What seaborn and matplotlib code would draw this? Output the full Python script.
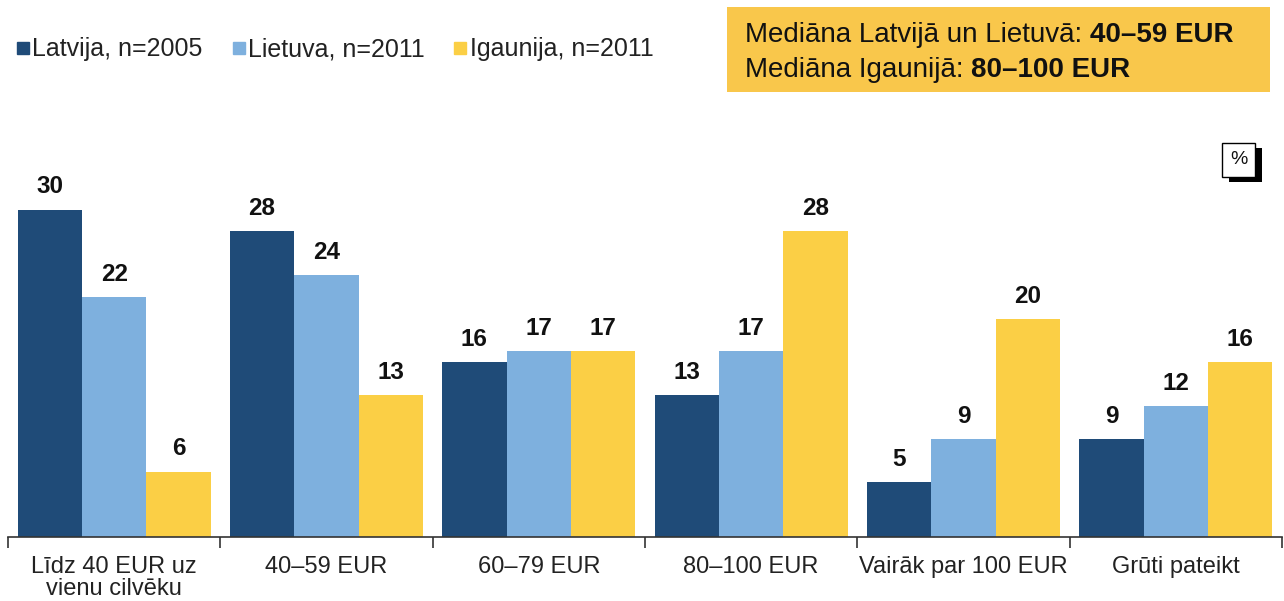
import matplotlib
matplotlib.use("Agg")
import matplotlib.pyplot as plt
import seaborn as sns
import pandas as pd
from matplotlib.lines import Line2D
from matplotlib.patches import Rectangle

categories = ["Līdz 40 EUR uz\nvienu cilvēku", "40–59 EUR", "60–79 EUR",
              "80–100 EUR", "Vairāk par 100 EUR", "Grūti pateikt"]
series = ["Latvija, n=2005", "Lietuva, n=2011", "Igaunija, n=2011"]
latvija = [30, 28, 16, 13, 5, 9]
lietuva = [22, 24, 17, 17, 9, 12]
igaunija = [6, 13, 17, 28, 20, 16]
colors = ["#1F4B78", "#7EB0DE", "#FBCF45"]
box_lines = [("Mediāna Latvijā un Lietuvā: ", "40–59 EUR"),
             ("Mediāna Igaunijā: ", "80–100 EUR")]

sns.set_theme(style="white")
plt.rcParams["font.family"] = ["Liberation Sans", "DejaVu Sans"]

rows = []
for s, vals in zip(series, [latvija, lietuva, igaunija]):
    for c, v in zip(categories, vals):
        rows.append({"cat": c, "series": s, "val": v})
df = pd.DataFrame(rows)

fig = plt.figure(figsize=(12.84, 6.01), dpi=100)
ax = fig.add_axes([8 / 1284, 64 / 601, 1274 / 1284, 430 / 601])
sns.barplot(data=df, x="cat", y="val", hue="series", palette=colors,
            width=0.91, gap=0, saturation=1, ax=ax, legend=False,
            order=categories, hue_order=series, linewidth=0, edgecolor="none")
ax.set_xlim(-0.5, len(categories) - 0.5)
ax.set_ylim(0, 39.4)
ax.set_xlabel("")
ax.set_ylabel("")
ax.set_yticks([])
for sp in ["top", "right", "left"]:
    ax.spines[sp].set_visible(False)
ax.spines["bottom"].set_color("#333333")
ax.spines["bottom"].set_linewidth(1.2)

# labels above bars
for cont in ax.containers:
    ax.bar_label(cont, labels=[f"{int(v)}" for v in cont.datavalues],
                 padding=8, fontsize=17.5, fontweight="bold", color="#111111")

# ticks at boundaries, labels at centers
ax.set_xticks([i - 0.5 for i in range(len(categories) + 1)])
ax.set_xticklabels([])
ax.tick_params(axis="x", which="major", length=8, width=1.2, color="#333333",
               direction="out", bottom=True)
ax.set_xticks(range(len(categories)), minor=True)
ax.set_xticklabels(categories, minor=True, fontsize=17, color="#222222",
                   linespacing=1.0)
ax.tick_params(axis="x", which="minor", length=0, pad=14)

# legend
handles = [Line2D([0], [0], marker="s", linestyle="none", markersize=8,
                  markerfacecolor=c, markeredgecolor=c) for c in colors]
fig.legend(handles, series, loc="center left", bbox_to_anchor=(0.0, 0.918),
           ncol=3, frameon=False, fontsize=18, handlelength=0.45,
           handletextpad=0.15, columnspacing=1.2, labelcolor="#222222",
           borderaxespad=0.3)

# median box
fig.patches.append(Rectangle((727 / 1284, 1 - 92 / 601), 543 / 1284, 85 / 601,
                             transform=fig.transFigure, facecolor="#F9C74B",
                             edgecolor="none", zorder=0))
for i, (plain, bold) in enumerate(box_lines):
    y = 1 - (35 + i * 35) / 601
    t = fig.text(745 / 1284, y, plain, fontsize=20, va="center", ha="left",
                 color="#111111")
    fig.canvas.draw()
    bb = t.get_window_extent()
    fig.text(bb.x1 / 1284, y, bold, fontsize=20, fontweight="bold",
             va="center", ha="left", color="#111111")

# % box with shadow
fig.patches.append(Rectangle((1229 / 1284, 1 - 182 / 601), 33 / 1284, 34 / 601,
                             transform=fig.transFigure, facecolor="black",
                             edgecolor="none", zorder=1))
fig.patches.append(Rectangle((1222 / 1284, 1 - 177 / 601), 33 / 1284, 34 / 601,
                             transform=fig.transFigure, facecolor="white",
                             edgecolor="black", linewidth=1, zorder=2))
fig.text(1238.5 / 1284, 1 - 160 / 601, "%", fontsize=14, ha="center",
         va="center", color="#111111", zorder=3)

fig.savefig("out.png", dpi=100)
